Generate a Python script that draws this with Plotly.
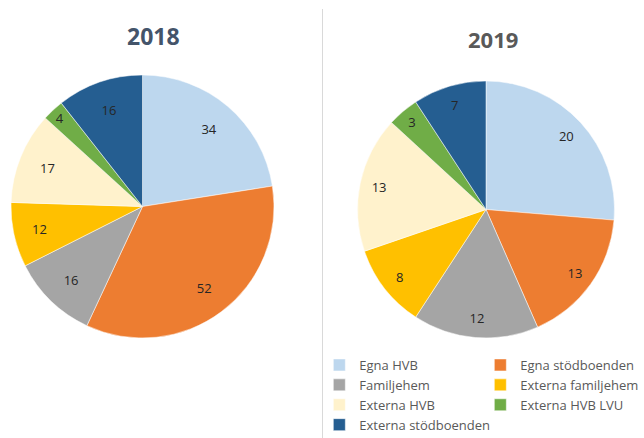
import plotly.graph_objects as go

labels = ["Egna HVB", "Egna stödboenden", "Familjehem", "Externa familjehem",
          "Externa HVB", "Externa HVB LVU", "Externa stödboenden"]
values_2018 = [34, 52, 16, 12, 17, 4, 16]
values_2019 = [20, 13, 12, 8, 13, 3, 7]
years = ["2018", "2019"]
colors = ["#bdd7ee", "#ed7d31", "#a5a5a5", "#ffc000", "#fff2cc", "#70ad47", "#255e91"]

W, H = 644, 438
MR = 3           # right margin, the legend sits just right of the plot area
PW = W - MR

def dom(cx, cy, r):
    return dict(x=[(cx - r) / PW, (cx + r) / PW], y=[1 - (cy + r) / H, 1 - (cy - r) / H])

pies = [(values_2018, dom(142.5, 206.5, 131.5), False, 0.56),
        (values_2019, dom(486, 209.5, 128.5), True, 0.7)]

fig = go.Figure()
for vals, d, show, ring in pies:
    fig.add_trace(go.Pie(
        labels=labels, values=vals, sort=False, direction="clockwise", rotation=0,
        marker=dict(colors=colors, line=dict(color="white", width=0.5)),
        textinfo="none", domain=d, showlegend=show, hoverinfo="label+value"))
    fig.add_trace(go.Pie(
        labels=labels, values=vals, sort=False, direction="clockwise", rotation=0, hole=ring,
        marker=dict(colors=["rgba(0,0,0,0)"] * len(vals), line=dict(width=0)),
        textinfo="value", textposition="inside", insidetextorientation="horizontal",
        textfont=dict(family="Open Sans", size=13, color="#262626"),
        domain=d, showlegend=False, hoverinfo="skip"))

fig.add_annotation(text="<b>" + years[0] + "</b>", x=153 / PW, y=1 - 36 / H, xref="paper", yref="paper",
                   xanchor="center", yanchor="middle",
                   showarrow=False, font=dict(family="Open Sans", size=23, color="#44546a"))
fig.add_annotation(text="<b>" + years[1] + "</b>", x=493 / PW, y=1 - 39 / H, xref="paper", yref="paper",
                   xanchor="center", yanchor="middle",
                   showarrow=False, font=dict(family="Open Sans", size=22, color="#595959"))

fig.add_shape(type="line", xref="paper", yref="paper", x0=322.5 / PW, x1=322.5 / PW, y0=0, y1=1 - 9 / H,
              line=dict(color="#d9d9d9", width=1))

fig.update_layout(
    width=W, height=H, margin=dict(l=0, r=MR, t=0, b=0, autoexpand=False),
    paper_bgcolor="white", plot_bgcolor="white",
    legend=dict(orientation="h", x=1.0005, xanchor="right", y=1 - 350 / H, yanchor="top",
                entrywidth=116, traceorder="normal",
                font=dict(family="Open Sans", size=13, color="#595959"),
                bgcolor="rgba(0,0,0,0)"),
)

fig.write_html("out.html", config={"displayModeBar": False},
               post_script="document.body.style.margin='0px';")
